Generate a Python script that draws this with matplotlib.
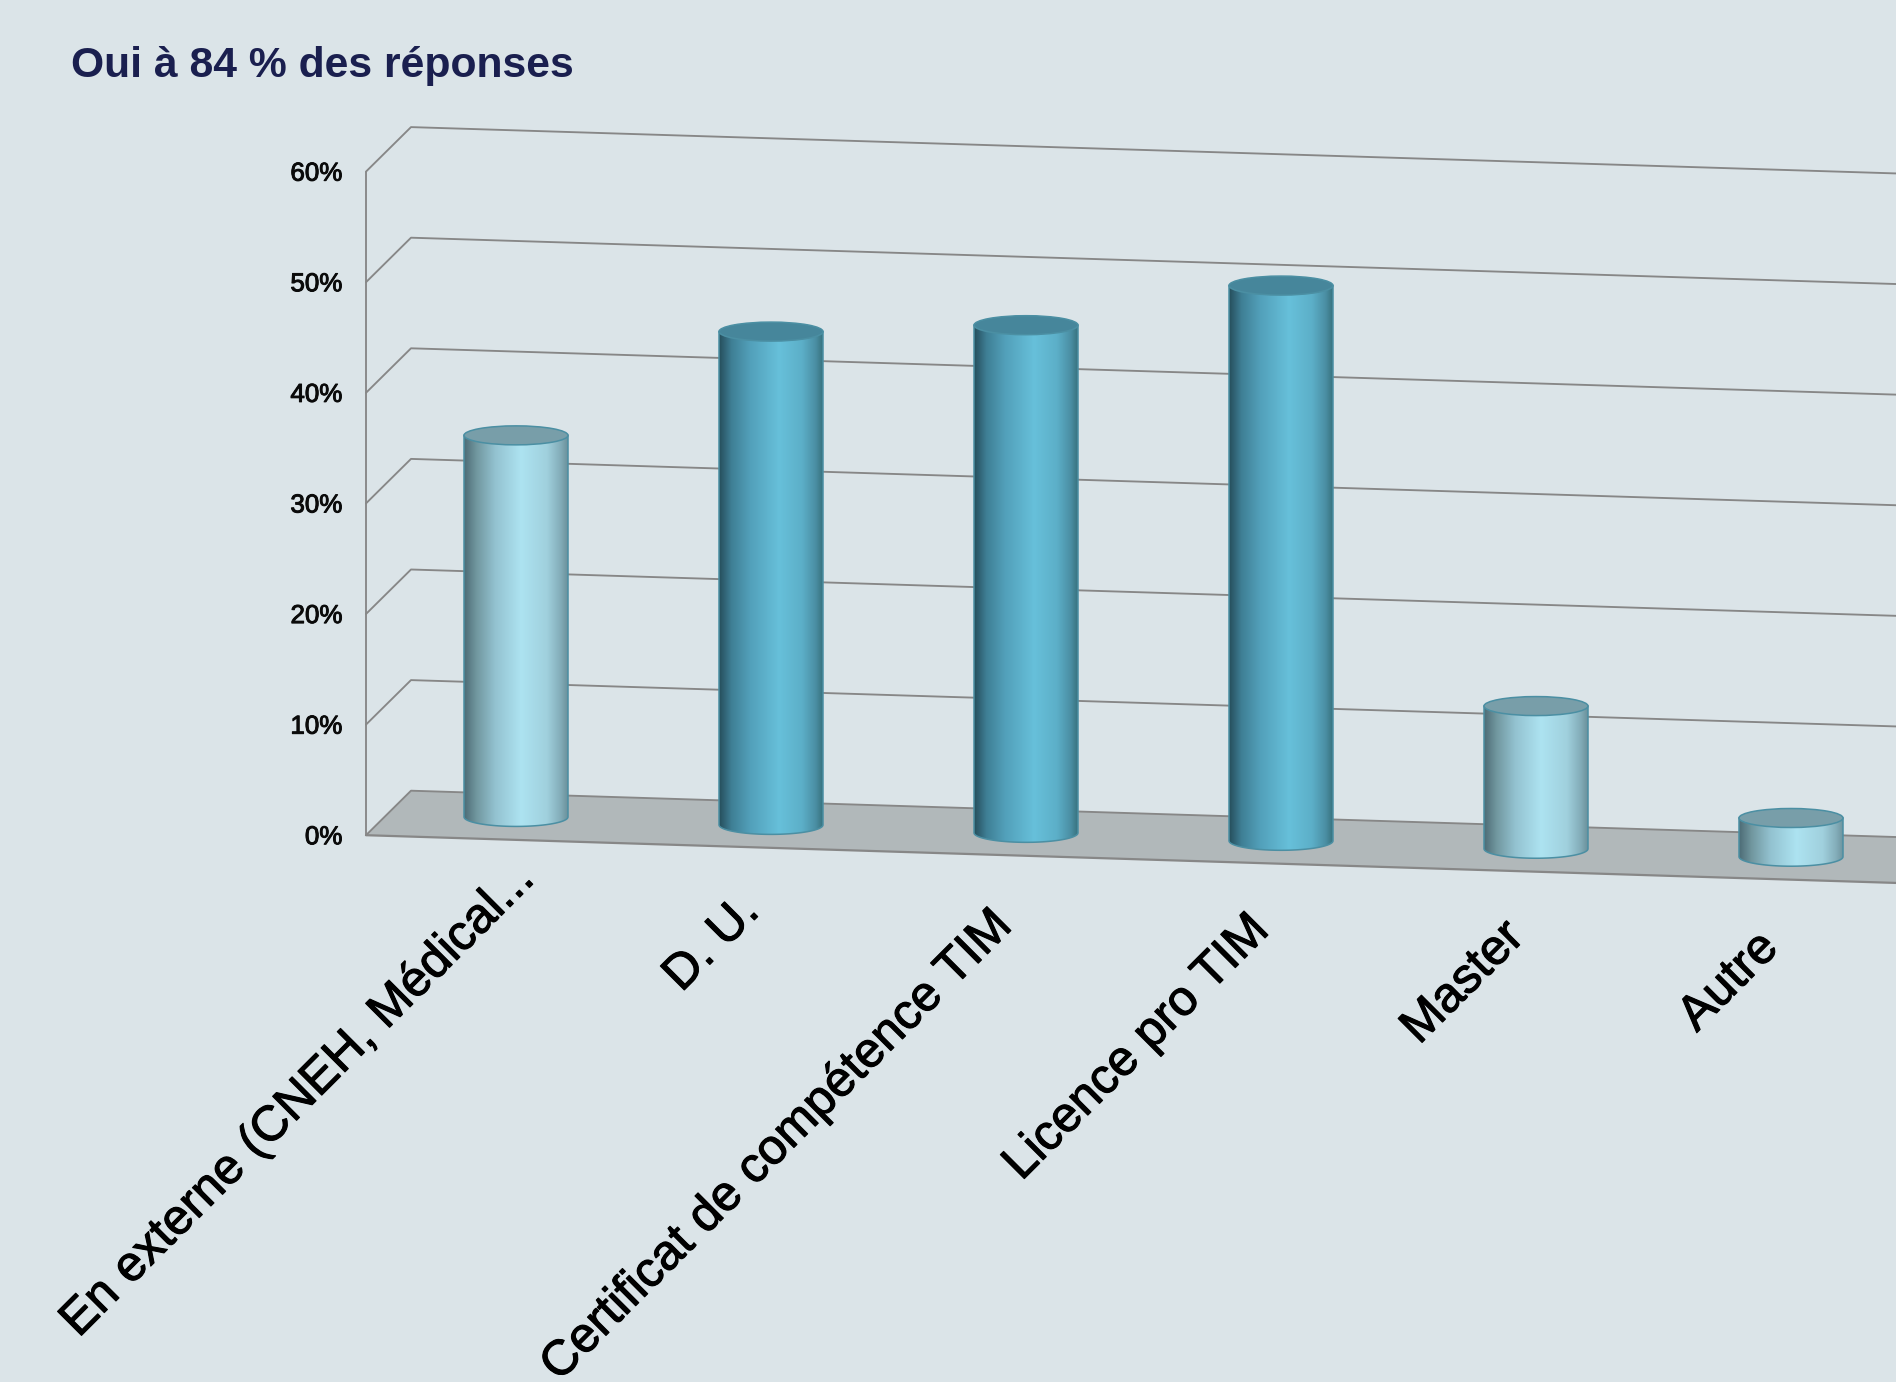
import numpy as np
import matplotlib
matplotlib.use("Agg")
import matplotlib.pyplot as plt
import matplotlib.patheffects as pe
from matplotlib.colors import LinearSegmentedColormap
from matplotlib.patches import Ellipse, PathPatch, Polygon
from matplotlib.path import Path

title = "Oui à 84 % des réponses"
categories = ["En externe (CNEH, Médical...", "D. U.", "Certificat de compétence TIM",
              "Licence pro TIM", "Master", "Autre"]
values = [34.5, 44.6, 45.9, 50.2, 12.9, 3.5]
highlighted = [False, True, True, True, False, False]
y_ticks = [0, 10, 20, 30, 40, 50, 60]
y_tick_labels = ["0%", "10%", "20%", "30%", "40%", "50%", "60%"]

W, H = 1896, 1382
BG = "#dbe4e8"
GRID = "#878787"
FLOOR = "#b1b8ba"
PX_CAT = 255.0
PX_VAL = 11.06
X0 = 366.0
Y0 = 835.2
DX = 45 / PX_CAT
DY = 44.5 / PX_VAL
SLOPE = 0.0312 * PX_CAT / PX_VAL
BAR_W = 104 / PX_CAT
ELL_H = 19 / PX_VAL
LABEL_OFFSETS = [(12, -12), (-9, -30), (-11, -34), (-9, -32), (-9, -31), (-9.5, -33)]

plt.rcParams["font.family"] = ["Liberation Sans", "DejaVu Sans"]
fig = plt.figure(figsize=(W / 100, H / 100), dpi=100, facecolor=BG)
ax = fig.add_axes([0, 0, 1, 1])
ax.set_facecolor(BG)
xlim = (-0.5 - X0 / PX_CAT, -0.5 + (W - X0) / PX_CAT)
ylim = (-(H - Y0) / PX_VAL, Y0 / PX_VAL)
ax.axis("off")


def project(c, v, depth=0.0):
    c = np.asarray(c, dtype=float)
    return c + depth * DX, v - SLOPE * (c + 0.5) + depth * DY


C_LEFT, C_RIGHT = -0.5, 6.5
floor = [project(C_LEFT, 0), project(C_LEFT, 0, 1), project(C_RIGHT, 0, 1), project(C_RIGHT, 0)]
ax.add_patch(Polygon(floor, closed=True, facecolor=FLOOR, edgecolor="none", zorder=1))
line_kw = dict(color=GRID, lw=1.35, zorder=2, solid_capstyle="round")
for v in y_ticks:
    pts = [project(C_LEFT, v), project(C_LEFT, v, 1), project(C_RIGHT, v, 1)]
    ax.plot(*zip(*pts), **line_kw)
ax.plot(*zip(project(C_LEFT, 0), project(C_RIGHT, 0)), **{**line_kw, "lw": 1.6})
ax.plot(*zip(project(C_LEFT, 0), project(C_LEFT, y_ticks[-1])), **line_kw)

cmap_dark = LinearSegmentedColormap.from_list("d", [(0, "#264e5c"), (0.12, "#3f7f95"), (0.3, "#52a0ba"),
                                                     (0.58, "#67c0da"), (0.8, "#5cafc8"), (0.93, "#4b8fa4"), (1, "#38727f")])
cmap_light = LinearSegmentedColormap.from_list("l", [(0, "#4d6c76"), (0.12, "#71979f"), (0.3, "#93c2d0"),
                                                      (0.55, "#ade3f1"), (0.8, "#a0d0dd"), (0.93, "#83adb9"), (1, "#6b909b")])
EDGE = "#4b8fa3"
TOP_DARK = "#46869b"
TOP_LIGHT = "#789ea9"
grad = np.linspace(0, 1, 256)[None, :]

for i, (val, hi) in enumerate(zip(values, highlighted)):
    cx, base = project(i, 0, 0.5)
    ax.bar(cx, val, width=BAR_W, bottom=base, facecolor="none", edgecolor="none", zorder=3)
    t = np.linspace(np.pi, 2 * np.pi, 60)
    ex = cx + BAR_W / 2 * np.cos(t)
    ey = base + ELL_H / 2 * np.sin(t)
    top = base + val
    verts = list(zip(ex, ey)) + [(cx + BAR_W / 2, top), (cx - BAR_W / 2, top)]
    body = Path(verts + [verts[0]], closed=True)
    ax.add_patch(PathPatch(body, facecolor="none", edgecolor=EDGE, lw=1.1, zorder=5))
    im = ax.imshow(grad, cmap=cmap_dark if hi else cmap_light, aspect="auto",
                   extent=(cx - BAR_W / 2, cx + BAR_W / 2, base - ELL_H, top), zorder=4, interpolation="bilinear")
    im.set_clip_path(PathPatch(body, transform=ax.transData))
    ax.add_patch(Ellipse((cx, top), BAR_W, ELL_H, facecolor=TOP_DARK if hi else TOP_LIGHT,
                         edgecolor=EDGE, lw=1.1, zorder=6))

ax.set_xlim(*xlim)
ax.set_ylim(*ylim)

for v, lab in zip(y_ticks, y_tick_labels):
    t = ax.annotate(lab, xy=(C_LEFT, v), xytext=(-17, -1.5), textcoords="offset points", ha="right", va="center",
                    fontsize=18.7, color="#0a0a0a")
    t.set_path_effects([pe.withStroke(linewidth=0.7, foreground="#0a0a0a")])

for i, cat in enumerate(categories):
    x, y = project(i, 0, 0)
    t = ax.annotate(cat, xy=(x, y), xytext=LABEL_OFFSETS[i], textcoords="offset points", rotation=45,
                    rotation_mode="anchor", ha="right", va="top", fontsize=35.5,
                    color="black", annotation_clip=False)
    t.set_path_effects([pe.withStroke(linewidth=0.8, foreground="black")])

fig.text(71 / W, 1 - 66 / H, title, fontsize=30.7, fontweight="bold", color="#1a1f4f", ha="left", va="center")
fig.savefig("out.png", dpi=100, facecolor=BG)
